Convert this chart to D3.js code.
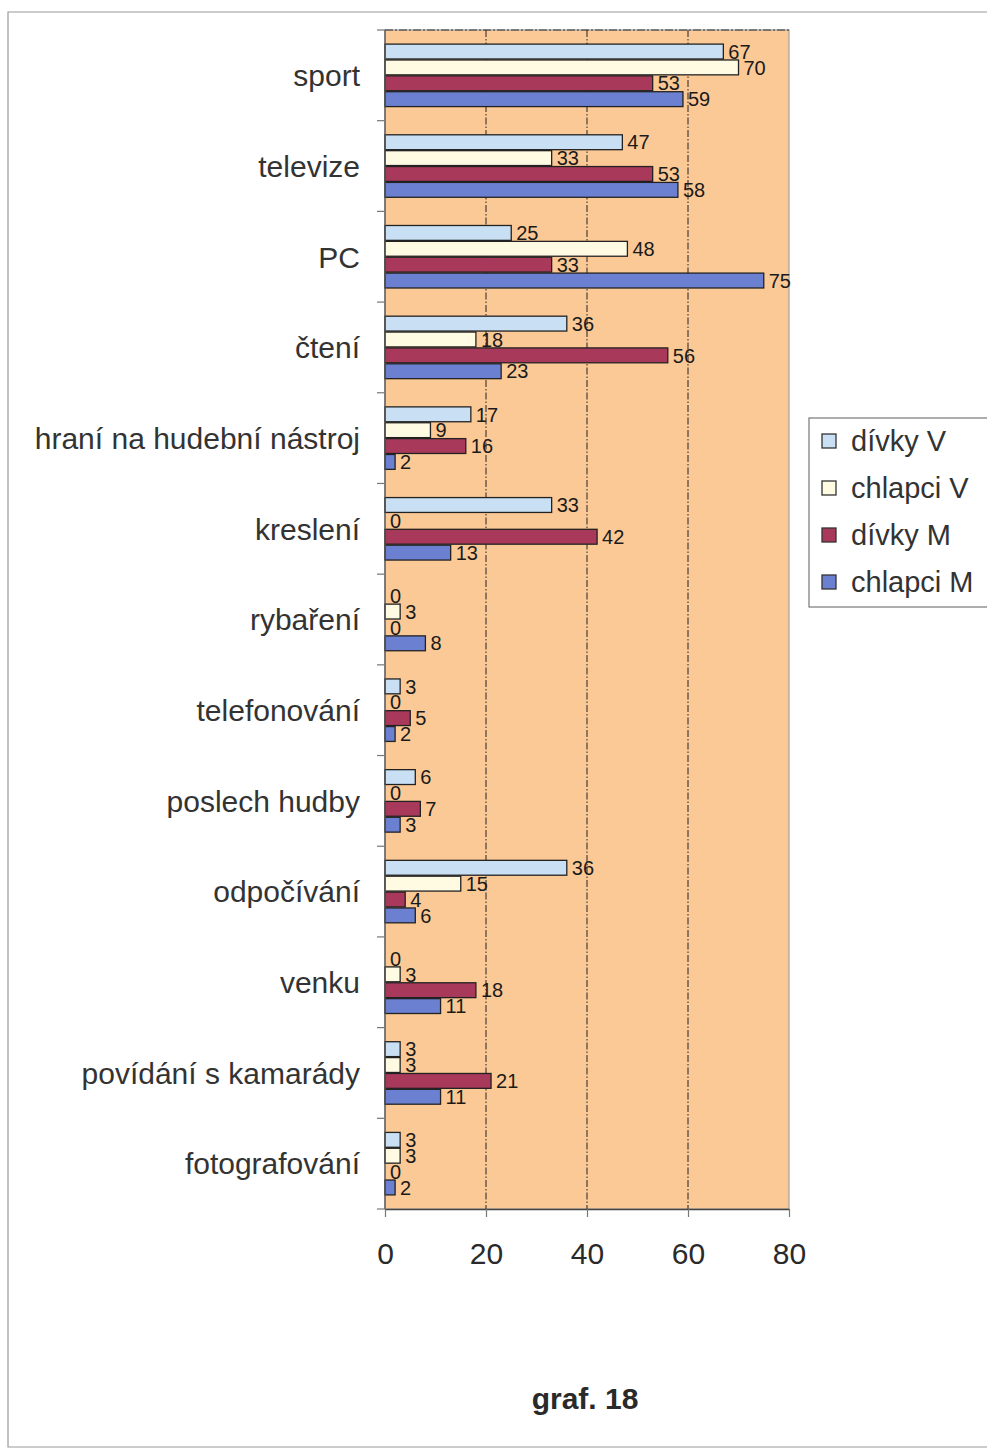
<!DOCTYPE html>
<meta charset="utf-8">
<html>
<head>
    <script src="https://d3js.org/d3.v7.min.js"></script>
    <style>
        body { margin: 0; background: #fff; }
        text { font-family: "Liberation Sans", Arial, sans-serif; }
    </style>
</head>
<body>
<script>
    // data
    var categories = ["sport", "televize", "PC", "čtení", "hraní na hudební nástroj", "kreslení",
        "rybaření", "telefonování", "poslech hudby", "odpočívání", "venku",
        "povídání s kamarády", "fotografování"];
    var seriesNames = ["dívky V", "chlapci V", "dívky M", "chlapci M"];
    var divkyV   = [67, 47, 25, 36, 17, 33, 0, 3, 6, 36, 0, 3, 3];
    var chlapciV = [70, 33, 48, 18, 9, 0, 3, 0, 0, 15, 3, 3, 3];
    var divkyM   = [53, 53, 33, 56, 16, 42, 0, 5, 7, 4, 18, 21, 0];
    var chlapciM = [59, 58, 75, 23, 2, 13, 8, 2, 3, 6, 11, 11, 2];
    var xTicks = [0, 20, 40, 60, 80];
    var colors = ["#c9e0f4", "#fffbe3", "#a8395a", "#6b80d0"];

    var seriesValues = [divkyV, chlapciV, divkyM, chlapciM];

    var width = 987, height = 1451;
    var svg = d3.select("body").append("svg")
        .attr("width", width)
        .attr("height", height);

    // page frame
    svg.append("path")
        .attr("d", "M987,12 H8 V1447 H987")
        .attr("fill", "none")
        .attr("stroke", "#9a9a9a")
        .attr("stroke-width", 1.2);

    var plot = {left: 385, right: 789, top: 30, bottom: 1209};

    var x = d3.scaleLinear()
        .domain([0, 80])
        .range([plot.left, plot.right]);

    var y = d3.scaleBand()
        .domain(categories)
        .range([plot.top, plot.bottom])
        .paddingInner(0.3)
        .paddingOuter(0.15);

    var ySub = d3.scaleBand()
        .domain(d3.range(seriesNames.length))
        .range([0, y.bandwidth()]);

    // plot background
    svg.append("rect")
        .attr("x", plot.left)
        .attr("y", plot.top)
        .attr("width", plot.right - plot.left)
        .attr("height", plot.bottom - plot.top)
        .attr("fill", "#fbc995")
        .attr("stroke", "#a0a0a0")
        .attr("stroke-width", 1.2);

    // top edge looks darker / dashed
    svg.append("line")
        .attr("x1", plot.left).attr("x2", plot.right)
        .attr("y1", plot.top).attr("y2", plot.top)
        .attr("stroke", "#333")
        .attr("stroke-dasharray", "8,2,2,2");

    // gridlines
    svg.append("g")
        .selectAll("line")
        .data(xTicks.filter(function(d) { return d > 0 && d < 80; }))
        .join("line")
            .attr("x1", function(d) { return x(d); })
            .attr("x2", function(d) { return x(d); })
            .attr("y1", plot.top)
            .attr("y2", plot.bottom)
            .attr("stroke", "#222")
            .attr("stroke-width", 1)
            .attr("stroke-dasharray", "7,2,1.5,2");

    // bars
    var rows = categories.map(function(c, i) {
        return seriesValues.map(function(s, k) {
            return {cat: c, k: k, value: s[i]};
        });
    });

    var groups = svg.append("g")
        .selectAll("g")
        .data(rows)
        .join("g")
            .attr("transform", function(d, i) { return "translate(0," + y(categories[i]) + ")"; });

    groups.selectAll("rect")
        .data(function(d) { return d; })
        .join("rect")
            .attr("x", x(0))
            .attr("y", function(d) { return ySub(d.k) + 0.5; })
            .attr("width", function(d) { return x(d.value) - x(0); })
            .attr("height", ySub.bandwidth() - 1)
            .attr("fill", function(d) { return colors[d.k]; })
            .attr("stroke", "#222")
            .attr("stroke-width", 1.3);

    groups.selectAll("text")
        .data(function(d) { return d; })
        .join("text")
            .attr("x", function(d) { return x(d.value) + 5; })
            .attr("y", function(d) { return ySub(d.k) + ySub.bandwidth() / 2; })
            .attr("dy", "0.36em")
            .attr("font-size", "20px")
            .attr("fill", "#1a1a1a")
            .text(function(d) { return d.value; });

    // left axis line + boundary ticks
    svg.append("line")
        .attr("x1", plot.left).attr("x2", plot.left)
        .attr("y1", plot.top).attr("y2", plot.bottom)
        .attr("stroke", "#555")
        .attr("stroke-width", 1.3);

    svg.append("g")
        .selectAll("line")
        .data(d3.range(categories.length + 1))
        .join("line")
            .attr("x1", plot.left - 8)
            .attr("x2", plot.left)
            .attr("y1", function(i) { return plot.top + i * y.step(); })
            .attr("y2", function(i) { return plot.top + i * y.step(); })
            .attr("stroke", "#777")
            .attr("stroke-width", 1.2);

    // category labels
    svg.append("g")
        .selectAll("text")
        .data(categories)
        .join("text")
            .attr("x", 360)
            .attr("y", function(d) { return y(d) + y.bandwidth() / 2; })
            .attr("dy", "0.36em")
            .attr("text-anchor", "end")
            .attr("font-size", "30px")
            .attr("fill", "#333")
            .text(function(d) { return d; });

    // bottom axis
    var xAxis = svg.append("g")
        .attr("transform", "translate(0," + plot.bottom + ")")
        .call(d3.axisBottom(x).tickValues(xTicks).tickSize(8).tickPadding(26).tickSizeOuter(0));
    xAxis.select(".domain").attr("stroke", "#444").attr("stroke-width", 1.5);
    xAxis.selectAll(".tick line").attr("stroke", "#777").attr("stroke-width", 1.2);
    xAxis.selectAll(".tick text")
        .attr("font-size", "30px")
        .attr("font-family", "'Liberation Sans', Arial, sans-serif")
        .attr("fill", "#2a2a2a");

    // legend
    var legend = svg.append("g").attr("transform", "translate(809,418)");
    legend.append("rect")
        .attr("width", 200)
        .attr("height", 189)
        .attr("fill", "#fff")
        .attr("stroke", "#777")
        .attr("stroke-width", 1.2);

    var items = legend.selectAll("g")
        .data(seriesNames)
        .join("g")
            .attr("transform", function(d, i) { return "translate(0," + (23 + i * 47) + ")"; });

    items.append("rect")
        .attr("x", 13)
        .attr("y", -7)
        .attr("width", 14)
        .attr("height", 14)
        .attr("fill", function(d, i) { return colors[i]; })
        .attr("stroke", "#333")
        .attr("stroke-width", 1.3);

    items.append("text")
        .attr("x", 42)
        .attr("dy", "0.36em")
        .attr("font-size", "29px")
        .attr("fill", "#333")
        .text(function(d) { return d; });

    // caption
    svg.append("text")
        .attr("x", 585)
        .attr("y", 1409)
        .attr("text-anchor", "middle")
        .attr("font-size", "30px")
        .attr("font-weight", "bold")
        .attr("fill", "#2a2a2a")
        .text("graf. 18");
</script>
</body>
</html>
